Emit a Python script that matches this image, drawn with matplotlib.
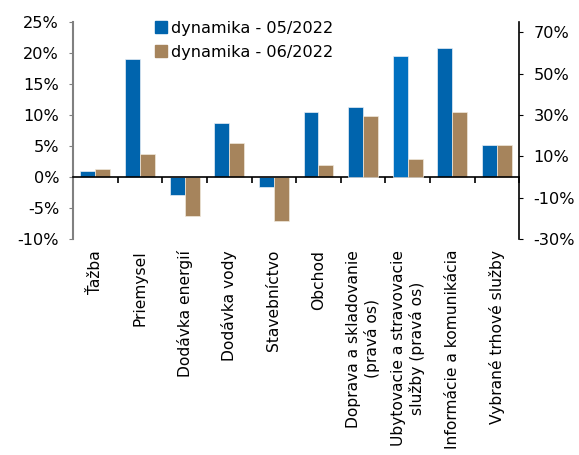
import matplotlib.pyplot as plt
from matplotlib.ticker import PercentFormatter
from matplotlib.patches import Patch
import numpy as np

# categories and values (in %)
categories = ['Ťažba', 'Priemysel', 'Dodávka energií', 'Dodávka vody', 'Stavebníctvo',
              'Obchod', 'Doprava a skladovanie\n(pravá os)',
              'Ubytovacie a stravovacie\nslužby (pravá os)',
              'Informácie a komunikácia', 'Vybrané trhové služby']
dyn_05 = [1.0, 19.0, -3.0, 8.7, -1.7, 10.5, 33.6, 58.4, 20.8, 5.2]
dyn_06 = [1.3, 3.7, -6.3, 5.4, -7.1, 1.9, 29.6, 8.5, 10.5, 5.1]
right_axis = [False, False, False, False, False, False, True, True, False, False]
labels = ['dynamika - 05/2022', 'dynamika - 06/2022']

blue = '#0064AD'
blue2 = '#0070C0'
brown = '#A6845C'
fs = 11.6

plt.rcParams['font.family'] = 'DejaVu Sans'
plt.rcParams['font.size'] = fs
plt.rcParams['axes.unicode_minus'] = False

fig = plt.figure(figsize=(5.79, 4.55), dpi=100)
ax = fig.add_axes([0.126, 0.475, 0.771, 0.477])
ax2 = ax.twinx()

x = np.arange(len(categories))
w = 0.335
for i in x:
    a = ax2 if right_axis[i] else ax
    c1 = blue2 if i == 7 else blue
    a.bar(i - w/2, dyn_05[i], w, color=c1, edgecolor='#e8eef5', linewidth=0.5)
    a.bar(i + w/2, dyn_06[i], w, color=brown, edgecolor='#f0e8dc', linewidth=0.5)

ax.set_xlim(-0.5, len(categories) - 0.5)
ax.set_ylim(-10, 25)
ax2.set_ylim(-30, 75)
ax.set_yticks(np.arange(-10, 26, 5))
ax2.set_yticks(np.arange(-30, 71, 20))
ax.yaxis.set_major_formatter(PercentFormatter(decimals=0))
ax2.yaxis.set_major_formatter(PercentFormatter(decimals=0))

for a in (ax, ax2):
    a.spines['top'].set_visible(False)
ax2.spines['left'].set_visible(False)
ax2.spines['bottom'].set_visible(False)
ax.spines['right'].set_visible(False)
ax.spines['left'].set_color('#808080')
ax.spines['left'].set_linewidth(1.5)
ax2.spines['right'].set_linewidth(1.2)
ax.spines['bottom'].set_position(('data', 0))
ax.spines['bottom'].set_linewidth(1.2)

ax.tick_params(axis='y', length=3, pad=7, colors='#808080', labelcolor='black', labelsize=fs)
ax2.tick_params(axis='y', length=3, pad=7, labelsize=fs)
ax.set_xticks(np.arange(-0.5, len(categories), 1))
ax.tick_params(axis='x', length=4, width=1.2, labelbottom=False)

sec = ax.secondary_xaxis('bottom')
sec.set_xticks(x)
sec.set_xticklabels(categories, rotation=90, ha='center', va='top', multialignment='center')
sec.tick_params(length=0, pad=8, labelsize=11.2)
sec.spines['bottom'].set_visible(False)

handles = [Patch(color=blue), Patch(color=brown)]
ax.legend(handles, labels, loc='upper left', bbox_to_anchor=(0.17, 1.035), frameon=False,
          handlelength=0.7, handleheight=0.7, handletextpad=0.3, labelspacing=0.55,
          fontsize=fs, borderaxespad=0)

fig.savefig('out.png', dpi=100)
